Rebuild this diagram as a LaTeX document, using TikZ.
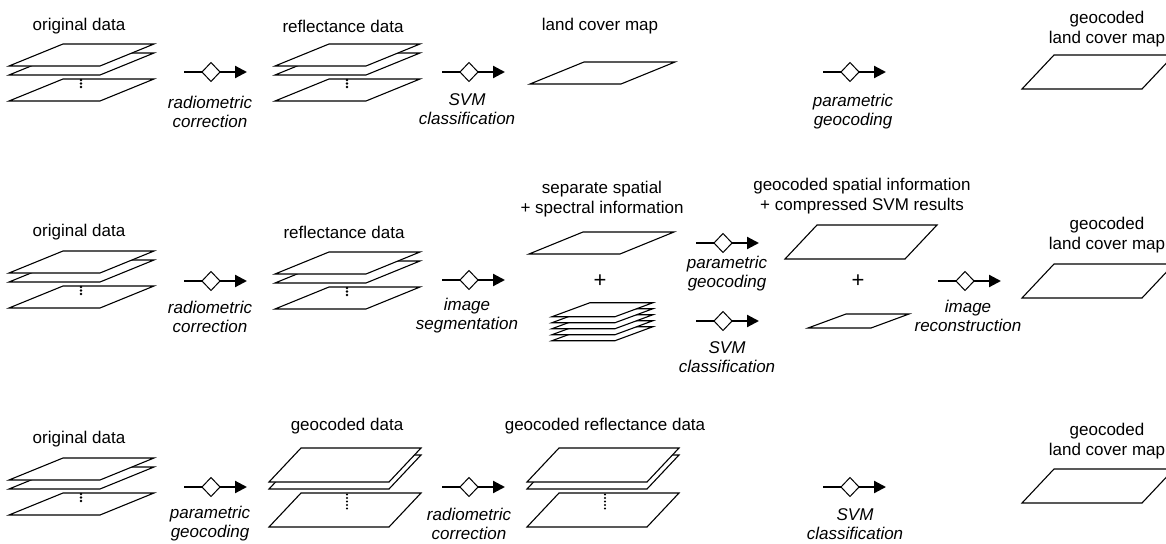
\documentclass[tikz,border=0pt]{standalone}
\usepackage{fontspec}
\setmainfont{Liberation Sans}
\usetikzlibrary{arrows.meta}
\tikzset{
  lyr/.style={draw=black, fill=white, line width=1.1pt, line join=miter},
  lbl/.style={font=\fontsize{17}{19.5}\selectfont, align=center, inner sep=0pt},
  plus/.style={font=\fontsize{22}{24}\selectfont, inner sep=0pt},
  op/.style={font=\fontsize{17}{19}\selectfont\itshape, align=center, inner sep=0pt},
  proc/.pic={
    \draw[line width=2.2pt] (0,0) -- (18,0);
    \draw[line width=2.2pt,-{Triangle[length=12pt,width=12pt]}] (36,0) -- (63,0);
    \draw[line width=1pt,fill=white] (18,0) -- (27,9.5) -- (36,0) -- (27,-9.5) -- cycle;
  }
}
% small layer: bottom-left corner
\newcommand{\lyrS}[2]{\draw[lyr] (#1,#2) -- ++(91,0) -- ++(54,-22) -- ++(-91,0) -- cycle;}
% large (geocoded) layer
\newcommand{\lyrL}[2]{\draw[lyr] (#1,#2) -- ++(120,0) -- ++(32,-34) -- ++(-120,0) -- cycle;}
% thin layer
\newcommand{\lyrT}[2]{\draw[lyr] (#1,#2) -- ++(63,0) -- ++(38,-14) -- ++(-63,0) -- cycle;}
% stack of three small layers
\newcommand{\stackS}[2]{%
  \lyrS{#1}{#2+35}\lyrS{#1}{#2+9}\lyrS{#1}{#2}%
  \foreach \d in {14,17.5,21}{\fill (#1+72,#2+\d) circle (1.3pt);}}
% stack of three large layers
\newcommand{\stackL}[2]{%
  \lyrL{#1}{#2+45}\lyrL{#1}{#2+7}\lyrL{#1}{#2}%
  \foreach \d in {12.5,16,19.5,23,26.5}{\fill (#1+78,#2+\d) circle (1.2pt);}}
\begin{document}
\begin{tikzpicture}[x=1pt,y=-1pt]
\useasboundingbox (0,0) rectangle (1166,543);
\clip (0,0) rectangle (1166,543);
\fill[white] (0,0) rectangle (1166,543);

% ---------------- Row 1 ----------------
\node[lbl] (r1a) at (79,26) {original data};
\stackS{9}{66}
\pic at (184,72) {proc};
\node[op] (r1o1) at (210,112) {radiometric\\correction};
\node[lbl] (r1b) at (343,26) {reflectance data};
\stackS{275}{66}
\pic at (442,72) {proc};
\node[op] (r1o2) at (467,109) {SVM\\classification};
\node[lbl] (r1c) at (600,26) {land cover map};
\lyrS{530}{84}
\pic at (823,72) {proc};
\node[op] (r1o3) at (853,112) {parametric\\geocoding};
\node[lbl] (r1d) at (1107,29) {geocoded\\land cover map};
\lyrL{1022}{89}

% ---------------- Row 2 ----------------
\node[lbl] (r2a) at (79,232) {original data};
\stackS{9}{273}
\pic at (184,281) {proc};
\node[op] (r2o1) at (210,317) {radiometric\\correction};
\node[lbl] (r2b) at (344,232) {reflectance data};
\stackS{275}{274}
\pic at (442,280) {proc};
\node[op] (r2o2) at (467,316) {image\\segmentation};
\node[lbl] (r2c) at (602,199) {separate spatial\\+ spectral information};
\lyrS{529}{254}
\node[plus] (r2p1) at (600,281) {+};
\foreach \k in {24,18,12,6,0}{\lyrT{552}{316.7+\k}}
\pic at (696,243) {proc};
\node[op] (r2o3) at (727,274) {parametric\\geocoding};
\pic at (696,321) {proc};
\node[op] (r2o4) at (727,357) {SVM\\classification};
\node[lbl] (r2d) at (862,196) {geocoded spatial information\\+ compressed SVM results};
\lyrL{785}{259}
\node[plus] (r2p2) at (858,281) {+};
\lyrT{808}{328}
\pic at (938,281) {proc};
\node[op] (r2o5) at (968,316) {image\\reconstruction};
\node[lbl] (r2e) at (1107,235) {geocoded\\land cover map};
\lyrL{1022}{298}

% ---------------- Row 3 ----------------
\node[lbl] (r3a) at (79,439) {original data};
\stackS{9}{480}
\pic at (184,487) {proc};
\node[op] (r3o1) at (210,524) {parametric\\geocoding};
\node[lbl] (r3b) at (347,426) {geocoded data};
\stackL{269}{482}
\pic at (442,487) {proc};
\node[op] (r3o2) at (469,524) {radiometric\\correction};
\node[lbl] (r3c) at (605,426) {geocoded reflectance data};
\stackL{527}{482}
\pic at (823,487) {proc};
\node[op] (r3o3) at (855,524) {SVM\\classification};
\node[lbl] (r3d) at (1107,441) {geocoded\\land cover map};
\lyrL{1022}{503}
\end{tikzpicture}
\end{document}
